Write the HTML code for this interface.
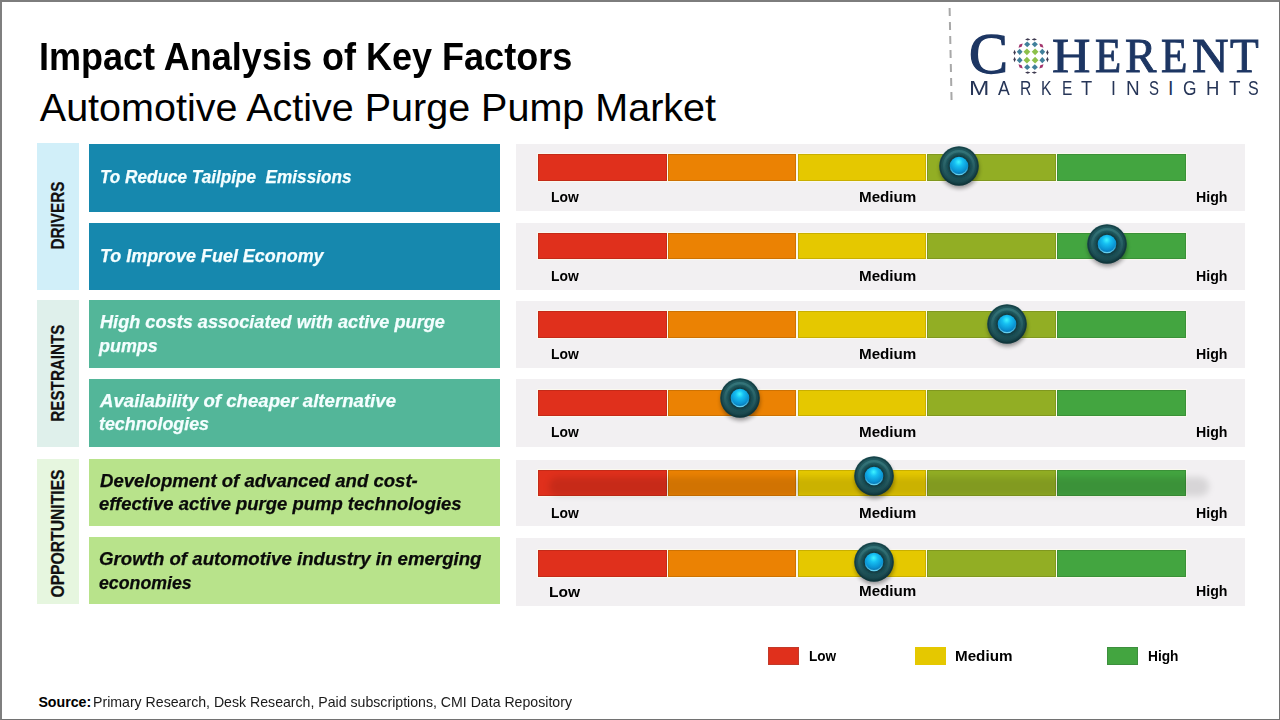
<!DOCTYPE html>
<html><head><meta charset="utf-8"><style>
*{margin:0;padding:0;box-sizing:border-box}
html,body{width:1280px;height:720px;overflow:hidden;background:#fff}
body{position:relative;font-family:"Liberation Sans", sans-serif;}
.a{position:absolute}
.frame{position:absolute;left:0;top:0;width:1280px;height:720px;border-top:2px solid #7d7d7d;border-left:2px solid #7f7f7f;border-right:1px solid #727272;border-bottom:1px solid #727272}
.t{position:absolute;white-space:pre;line-height:1;transform-origin:0 0}
.side{position:absolute;left:37px;width:42px}
.side span{position:absolute;font-weight:bold;font-size:18px;color:#111;white-space:nowrap;line-height:1;-webkit-text-stroke:0.2px #111}
.row{position:absolute;left:516px;width:729px;background:#f2f0f2}
</style></head>
<body>
<svg width="0" height="0" style="position:absolute"><defs>
<filter id="blur" x="-50%" y="-50%" width="200%" height="200%"><feGaussianBlur stdDeviation="2.2"/></filter><filter id="soft" x="-50%" y="-50%" width="200%" height="200%"><feGaussianBlur stdDeviation="0.8"/></filter>
<radialGradient id="gOuter" cx="48%" cy="42%" r="55%"><stop offset="0" stop-color="#2a6a70"/><stop offset="0.6" stop-color="#215a60"/><stop offset="0.85" stop-color="#1a4b51"/><stop offset="1" stop-color="#123a40"/></radialGradient>
<linearGradient id="gRing" x1="0" y1="0" x2="0" y2="1"><stop offset="0" stop-color="#3a7c80"/><stop offset="1" stop-color="#1c4a50"/></linearGradient>
<radialGradient id="gInner" cx="48%" cy="32%" r="72%" fx="48%" fy="28%"><stop offset="0" stop-color="#3ff4ff"/><stop offset="0.3" stop-color="#16bff2"/><stop offset="0.7" stop-color="#0a92d2"/><stop offset="1" stop-color="#08609a"/></radialGradient>
<linearGradient id="gRim" x1="0" y1="0" x2="0" y2="1"><stop offset="0.5" stop-color="#5fe6ff" stop-opacity="0"/><stop offset="1" stop-color="#7fe8ff" stop-opacity="0.8"/></linearGradient>
</defs></svg>
<div class="side" style="top:143px;height:147.0px;background:#d1eff9"><span style="left:0;top:0;transform-origin:0 0;transform:translate(21.10px,72.60px) rotate(-90deg) scaleX(0.8500) translate(-40.00px,-9.00px)">DRIVERS</span></div>
<div class="side" style="top:300px;height:146.7px;background:#dff0eb"><span style="left:0;top:0;transform-origin:0 0;transform:translate(21.10px,73.10px) rotate(-90deg) scaleX(0.8442) translate(-57.50px,-9.00px)">RESTRAINTS</span></div>
<div class="side" style="top:459.3px;height:145.0px;background:#e6f6df"><span style="left:0;top:0;transform-origin:0 0;transform:translate(21.10px,74.50px) rotate(-90deg) scaleX(0.8717) translate(-73.50px,-9.00px)">OPPORTUNITIES</span></div>
<div class="a" style="left:89px;width:411px;top:143.5px;height:68.0px;background:#1688ae"></div>
<div class="a" style="left:89px;width:411px;top:222.5px;height:67.0px;background:#1688ae"></div>
<div class="a" style="left:89px;width:411px;top:300.3px;height:67.4px;background:#53b699"></div>
<div class="a" style="left:89px;width:411px;top:378.8px;height:67.9px;background:#53b699"></div>
<div class="a" style="left:89px;width:411px;top:459.3px;height:66.5px;background:#b8e38b"></div>
<div class="a" style="left:89px;width:411px;top:537.3px;height:67.0px;background:#b8e38b"></div>
<div class="row" style="top:144px;height:67.4px"></div>
<div class="a" style="left:538px;top:154px;width:129px;height:26.6px;background:#e0301c;box-shadow:inset 0 0 0 1px rgba(0,0,0,0.12),0 0 0 1px rgba(255,255,235,0.6)"></div>
<div class="a" style="left:668px;top:154px;width:128px;height:26.6px;background:#eb8203;box-shadow:inset 0 0 0 1px rgba(0,0,0,0.12),0 0 0 1px rgba(255,255,235,0.6)"></div>
<div class="a" style="left:798px;top:154px;width:128px;height:26.6px;background:#e5c800;box-shadow:inset 0 0 0 1px rgba(0,0,0,0.12),0 0 0 1px rgba(255,255,235,0.6)"></div>
<div class="a" style="left:927px;top:154px;width:129px;height:26.6px;background:#92ae24;box-shadow:inset 0 0 0 1px rgba(0,0,0,0.12),0 0 0 1px rgba(255,255,235,0.6)"></div>
<div class="a" style="left:1057px;top:154px;width:129px;height:26.6px;background:#43a540;box-shadow:inset 0 0 0 1px rgba(0,0,0,0.12),0 0 0 1px rgba(255,255,235,0.6)"></div>
<div class="row" style="top:223.2px;height:66.4px"></div>
<div class="a" style="left:538px;top:233px;width:129px;height:26.0px;background:#e0301c;box-shadow:inset 0 0 0 1px rgba(0,0,0,0.12),0 0 0 1px rgba(255,255,235,0.6)"></div>
<div class="a" style="left:668px;top:233px;width:128px;height:26.0px;background:#eb8203;box-shadow:inset 0 0 0 1px rgba(0,0,0,0.12),0 0 0 1px rgba(255,255,235,0.6)"></div>
<div class="a" style="left:798px;top:233px;width:128px;height:26.0px;background:#e5c800;box-shadow:inset 0 0 0 1px rgba(0,0,0,0.12),0 0 0 1px rgba(255,255,235,0.6)"></div>
<div class="a" style="left:927px;top:233px;width:129px;height:26.0px;background:#92ae24;box-shadow:inset 0 0 0 1px rgba(0,0,0,0.12),0 0 0 1px rgba(255,255,235,0.6)"></div>
<div class="a" style="left:1057px;top:233px;width:129px;height:26.0px;background:#43a540;box-shadow:inset 0 0 0 1px rgba(0,0,0,0.12),0 0 0 1px rgba(255,255,235,0.6)"></div>
<div class="row" style="top:301.2px;height:67.1px"></div>
<div class="a" style="left:538px;top:311px;width:129px;height:26.7px;background:#e0301c;box-shadow:inset 0 0 0 1px rgba(0,0,0,0.12),0 0 0 1px rgba(255,255,235,0.6)"></div>
<div class="a" style="left:668px;top:311px;width:128px;height:26.7px;background:#eb8203;box-shadow:inset 0 0 0 1px rgba(0,0,0,0.12),0 0 0 1px rgba(255,255,235,0.6)"></div>
<div class="a" style="left:798px;top:311px;width:128px;height:26.7px;background:#e5c800;box-shadow:inset 0 0 0 1px rgba(0,0,0,0.12),0 0 0 1px rgba(255,255,235,0.6)"></div>
<div class="a" style="left:927px;top:311px;width:129px;height:26.7px;background:#92ae24;box-shadow:inset 0 0 0 1px rgba(0,0,0,0.12),0 0 0 1px rgba(255,255,235,0.6)"></div>
<div class="a" style="left:1057px;top:311px;width:129px;height:26.7px;background:#43a540;box-shadow:inset 0 0 0 1px rgba(0,0,0,0.12),0 0 0 1px rgba(255,255,235,0.6)"></div>
<div class="row" style="top:379.2px;height:67.5px"></div>
<div class="a" style="left:538px;top:390px;width:129px;height:25.8px;background:#e0301c;box-shadow:inset 0 0 0 1px rgba(0,0,0,0.12),0 0 0 1px rgba(255,255,235,0.6)"></div>
<div class="a" style="left:668px;top:390px;width:128px;height:25.8px;background:#eb8203;box-shadow:inset 0 0 0 1px rgba(0,0,0,0.12),0 0 0 1px rgba(255,255,235,0.6)"></div>
<div class="a" style="left:798px;top:390px;width:128px;height:25.8px;background:#e5c800;box-shadow:inset 0 0 0 1px rgba(0,0,0,0.12),0 0 0 1px rgba(255,255,235,0.6)"></div>
<div class="a" style="left:927px;top:390px;width:129px;height:25.8px;background:#92ae24;box-shadow:inset 0 0 0 1px rgba(0,0,0,0.12),0 0 0 1px rgba(255,255,235,0.6)"></div>
<div class="a" style="left:1057px;top:390px;width:129px;height:25.8px;background:#43a540;box-shadow:inset 0 0 0 1px rgba(0,0,0,0.12),0 0 0 1px rgba(255,255,235,0.6)"></div>
<div class="row" style="top:460px;height:66.2px"></div>
<div class="a" style="left:538px;top:470px;width:129px;height:26.0px;background:#e0301c;box-shadow:inset 0 0 0 1px rgba(0,0,0,0.12),0 0 0 1px rgba(255,255,235,0.6)"></div>
<div class="a" style="left:668px;top:470px;width:128px;height:26.0px;background:#eb8203;box-shadow:inset 0 0 0 1px rgba(0,0,0,0.12),0 0 0 1px rgba(255,255,235,0.6)"></div>
<div class="a" style="left:798px;top:470px;width:128px;height:26.0px;background:#e5c800;box-shadow:inset 0 0 0 1px rgba(0,0,0,0.12),0 0 0 1px rgba(255,255,235,0.6)"></div>
<div class="a" style="left:927px;top:470px;width:129px;height:26.0px;background:#92ae24;box-shadow:inset 0 0 0 1px rgba(0,0,0,0.12),0 0 0 1px rgba(255,255,235,0.6)"></div>
<div class="a" style="left:1057px;top:470px;width:129px;height:26.0px;background:#43a540;box-shadow:inset 0 0 0 1px rgba(0,0,0,0.12),0 0 0 1px rgba(255,255,235,0.6)"></div>
<div class="row" style="top:538px;height:67.8px"></div>
<div class="a" style="left:538px;top:550px;width:129px;height:26.7px;background:#e0301c;box-shadow:inset 0 0 0 1px rgba(0,0,0,0.12),0 0 0 1px rgba(255,255,235,0.6)"></div>
<div class="a" style="left:668px;top:550px;width:128px;height:26.7px;background:#eb8203;box-shadow:inset 0 0 0 1px rgba(0,0,0,0.12),0 0 0 1px rgba(255,255,235,0.6)"></div>
<div class="a" style="left:798px;top:550px;width:128px;height:26.7px;background:#e5c800;box-shadow:inset 0 0 0 1px rgba(0,0,0,0.12),0 0 0 1px rgba(255,255,235,0.6)"></div>
<div class="a" style="left:927px;top:550px;width:129px;height:26.7px;background:#92ae24;box-shadow:inset 0 0 0 1px rgba(0,0,0,0.12),0 0 0 1px rgba(255,255,235,0.6)"></div>
<div class="a" style="left:1057px;top:550px;width:129px;height:26.7px;background:#43a540;box-shadow:inset 0 0 0 1px rgba(0,0,0,0.12),0 0 0 1px rgba(255,255,235,0.6)"></div>
<div class="a" style="left:549px;top:477px;width:660px;height:19px;background:rgba(0,0,0,0.11);border-radius:9px;filter:blur(3px)"></div>
<div class="a" style="left:768px;top:647px;width:31px;height:18px;background:#e0301c;border:1px solid #c23a2a"></div>
<div class="a" style="left:915px;top:647px;width:31px;height:18px;background:#e5c800"></div>
<div class="a" style="left:1107px;top:647px;width:31px;height:18px;background:#43a540;border:1px solid #3d8f3e"></div>
<svg class="a" style="left:940px;top:0" width="20" height="110"><line x1="9.6" y1="8" x2="11.6" y2="102" stroke="#a8a8a8" stroke-width="2" stroke-dasharray="8 6"/></svg><svg width="40" height="40" viewBox="-20 -20 40 40" style="position:absolute;left:1010.5999999999999px;top:36.2px"><path d="M-3.4,0 L0,-3.4 L3.4,0 L0,3.4 Z" fill="#8cc04a" transform="translate(-4.1,-4.15) rotate(0)"/><path d="M-2.9,0 L0,-3.1 L2.9,0 L0,3.1 Z" fill="#41809b" transform="translate(-11.3,-4.15) rotate(0)"/><path d="M-3.1,0 L0,-2.9 L3.1,0 L0,2.9 Z" fill="#41809b" transform="translate(-3.8,-11.7) rotate(0)"/><path d="M-3.0,0 L0,-1.5 L3.0,0 L0,1.5 Z" fill="#a3346c" transform="translate(-10.4,-10.4) rotate(-45)"/><path d="M-2.7,0 L0,-1.2 L2.7,0 L0,1.2 Z" fill="#3e3a50" transform="translate(-3.3,-16.6) rotate(0)"/><path d="M-1.2,0 L0,-2.7 L1.2,0 L0,2.7 Z" fill="#3e3a50" transform="translate(-16.4,-3.5) rotate(0)"/><path d="M-3.4,0 L0,-3.4 L3.4,0 L0,3.4 Z" fill="#8cc04a" transform="translate(-4.1,4.15) rotate(0)"/><path d="M-2.9,0 L0,-3.1 L2.9,0 L0,3.1 Z" fill="#41809b" transform="translate(-11.3,4.15) rotate(0)"/><path d="M-3.1,0 L0,-2.9 L3.1,0 L0,2.9 Z" fill="#41809b" transform="translate(-3.8,11.2) rotate(0)"/><path d="M-3.0,0 L0,-1.5 L3.0,0 L0,1.5 Z" fill="#a3346c" transform="translate(-10.4,10.4) rotate(45)"/><path d="M-2.7,0 L0,-1.2 L2.7,0 L0,1.2 Z" fill="#3e3a50" transform="translate(-3.3,16.6) rotate(0)"/><path d="M-1.2,0 L0,-2.7 L1.2,0 L0,2.7 Z" fill="#3e3a50" transform="translate(-16.4,3.5) rotate(0)"/><path d="M-3.4,0 L0,-3.4 L3.4,0 L0,3.4 Z" fill="#8cc04a" transform="translate(4.1,-4.15) rotate(0)"/><path d="M-2.9,0 L0,-3.1 L2.9,0 L0,3.1 Z" fill="#41809b" transform="translate(11.3,-4.15) rotate(0)"/><path d="M-3.1,0 L0,-2.9 L3.1,0 L0,2.9 Z" fill="#41809b" transform="translate(3.8,-11.7) rotate(0)"/><path d="M-3.0,0 L0,-1.5 L3.0,0 L0,1.5 Z" fill="#a3346c" transform="translate(10.4,-10.4) rotate(45)"/><path d="M-2.7,0 L0,-1.2 L2.7,0 L0,1.2 Z" fill="#3e3a50" transform="translate(3.3,-16.6) rotate(0)"/><path d="M-1.2,0 L0,-2.7 L1.2,0 L0,2.7 Z" fill="#3e3a50" transform="translate(16.4,-3.5) rotate(0)"/><path d="M-3.4,0 L0,-3.4 L3.4,0 L0,3.4 Z" fill="#8cc04a" transform="translate(4.1,4.15) rotate(0)"/><path d="M-2.9,0 L0,-3.1 L2.9,0 L0,3.1 Z" fill="#41809b" transform="translate(11.3,4.15) rotate(0)"/><path d="M-3.1,0 L0,-2.9 L3.1,0 L0,2.9 Z" fill="#41809b" transform="translate(3.8,11.2) rotate(0)"/><path d="M-3.0,0 L0,-1.5 L3.0,0 L0,1.5 Z" fill="#a3346c" transform="translate(10.4,10.4) rotate(-45)"/><path d="M-2.7,0 L0,-1.2 L2.7,0 L0,1.2 Z" fill="#3e3a50" transform="translate(3.3,16.6) rotate(0)"/><path d="M-1.2,0 L0,-2.7 L1.2,0 L0,2.7 Z" fill="#3e3a50" transform="translate(16.4,3.5) rotate(0)"/></svg>
<div class="t" style="left:38.93px;top:36.84px;font-size:39px;font-weight:bold;color:#000;transform:scaleX(0.9237);">Impact Analysis of Key Factors</div>
<div class="t" style="left:39.80px;top:87.62px;font-size:39.5px;color:#000;">Automotive Active Purge Pump Market</div>
<div class="t" style="left:99.60px;top:166.94px;font-size:19px;font-weight:bold;font-style:italic;color:#f4feff;transform:scaleX(0.9033);-webkit-text-stroke:0.25px #f4feff;">To Reduce Tailpipe  Emissions</div>
<div class="t" style="left:99.66px;top:245.84px;font-size:19px;font-weight:bold;font-style:italic;color:#f4feff;transform:scaleX(0.9441);-webkit-text-stroke:0.25px #f4feff;">To Improve Fuel Economy</div>
<div class="t" style="left:100.00px;top:311.75px;font-size:19px;font-weight:bold;font-style:italic;color:#f4feff;transform:scaleX(0.9551);-webkit-text-stroke:0.25px #f4feff;">High costs associated with active purge</div>
<div class="t" style="left:99.40px;top:335.84px;font-size:19px;font-weight:bold;font-style:italic;color:#f4feff;transform:scaleX(0.9426);-webkit-text-stroke:0.25px #f4feff;">pumps</div>
<div class="t" style="left:99.50px;top:390.69px;font-size:19px;font-weight:bold;font-style:italic;color:#f4feff;transform:scaleX(0.9801);-webkit-text-stroke:0.25px #f4feff;">Availability of cheaper alternative</div>
<div class="t" style="left:98.56px;top:414.44px;font-size:19px;font-weight:bold;font-style:italic;color:#f4feff;transform:scaleX(0.9391);-webkit-text-stroke:0.25px #f4feff;">technologies</div>
<div class="t" style="left:100.00px;top:470.75px;font-size:19px;font-weight:bold;font-style:italic;color:#0a0a0a;transform:scaleX(0.9772);-webkit-text-stroke:0.25px #0a0a0a;">Development of advanced and cost-</div>
<div class="t" style="left:98.53px;top:494.44px;font-size:19px;font-weight:bold;font-style:italic;color:#0a0a0a;transform:scaleX(0.9709);-webkit-text-stroke:0.25px #0a0a0a;">effective active purge pump technologies</div>
<div class="t" style="left:99.02px;top:548.95px;font-size:19px;font-weight:bold;font-style:italic;color:#0a0a0a;transform:scaleX(0.9820);-webkit-text-stroke:0.25px #0a0a0a;">Growth of automotive industry in emerging</div>
<div class="t" style="left:99.07px;top:572.75px;font-size:19px;font-weight:bold;font-style:italic;color:#0a0a0a;transform:scaleX(0.9340);-webkit-text-stroke:0.25px #0a0a0a;">economies</div>
<div class="t" style="left:550.51px;top:190.07px;font-size:14px;font-weight:bold;color:#000;transform:scaleX(0.9889);">Low</div>
<div class="t" style="left:858.92px;top:190.07px;font-size:14px;font-weight:bold;color:#000;transform:scaleX(1.0843);">Medium</div>
<div class="t" style="left:1195.89px;top:190.07px;font-size:14px;font-weight:bold;color:#000;transform:scaleX(1.0103);">High</div>
<div class="t" style="left:550.51px;top:268.92px;font-size:14px;font-weight:bold;color:#000;transform:scaleX(0.9889);">Low</div>
<div class="t" style="left:858.92px;top:268.92px;font-size:14px;font-weight:bold;color:#000;transform:scaleX(1.0843);">Medium</div>
<div class="t" style="left:1195.89px;top:268.92px;font-size:14px;font-weight:bold;color:#000;transform:scaleX(1.0103);">High</div>
<div class="t" style="left:550.51px;top:347.17px;font-size:14px;font-weight:bold;color:#000;transform:scaleX(0.9889);">Low</div>
<div class="t" style="left:858.92px;top:347.17px;font-size:14px;font-weight:bold;color:#000;transform:scaleX(1.0843);">Medium</div>
<div class="t" style="left:1195.89px;top:347.17px;font-size:14px;font-weight:bold;color:#000;transform:scaleX(1.0103);">High</div>
<div class="t" style="left:550.51px;top:425.37px;font-size:14px;font-weight:bold;color:#000;transform:scaleX(0.9889);">Low</div>
<div class="t" style="left:858.92px;top:425.37px;font-size:14px;font-weight:bold;color:#000;transform:scaleX(1.0843);">Medium</div>
<div class="t" style="left:1195.89px;top:425.37px;font-size:14px;font-weight:bold;color:#000;transform:scaleX(1.0103);">High</div>
<div class="t" style="left:550.51px;top:505.97px;font-size:14px;font-weight:bold;color:#000;transform:scaleX(0.9889);">Low</div>
<div class="t" style="left:858.92px;top:505.97px;font-size:14px;font-weight:bold;color:#000;transform:scaleX(1.0843);">Medium</div>
<div class="t" style="left:1195.89px;top:505.97px;font-size:14px;font-weight:bold;color:#000;transform:scaleX(1.0103);">High</div>
<div class="t" style="left:548.67px;top:584.23px;font-size:15px;font-weight:bold;color:#000;transform:scaleX(1.0345);">Low</div>
<div class="t" style="left:858.92px;top:584.17px;font-size:14px;font-weight:bold;color:#000;transform:scaleX(1.0843);">Medium</div>
<div class="t" style="left:1195.89px;top:584.17px;font-size:14px;font-weight:bold;color:#000;transform:scaleX(1.0103);">High</div>
<div class="t" style="left:809.05px;top:648.72px;font-size:14.3px;font-weight:bold;color:#000;transform:scaleX(0.9500);">Low</div>
<div class="t" style="left:955.04px;top:648.62px;font-size:14.3px;font-weight:bold;color:#000;transform:scaleX(1.0635);">Medium</div>
<div class="t" style="left:1148.24px;top:648.62px;font-size:14.3px;font-weight:bold;color:#000;transform:scaleX(0.9600);">High</div>
<div class="t" style="left:38.40px;top:694.90px;font-size:14.2px;font-weight:bold;color:#000;">Source:</div>
<div class="t" style="left:93.00px;top:694.90px;font-size:14.2px;color:#1a1a1a;transform:scaleX(0.9958);">Primary Research, Desk Research, Paid subscriptions, CMI Data Repository</div>
<div class="t" style="left:968.94px;top:25.86px;font-size:56.7px;font-family:'Liberation Serif',serif;color:#1d3663;transform:scaleX(1.0303);-webkit-text-stroke:1.3px #1d3663;">C</div>
<div class="t" style="left:1051.51px;top:32.37px;font-size:48.9px;font-family:'Liberation Serif',serif;color:#1d3663;transform:scaleX(1.0879);-webkit-text-stroke:0.9px #1d3663;">H</div>
<div class="t" style="left:1094.82px;top:32.37px;font-size:48.9px;font-family:'Liberation Serif',serif;color:#1d3663;transform:scaleX(0.8769);-webkit-text-stroke:0.9px #1d3663;">E</div>
<div class="t" style="left:1125.04px;top:32.37px;font-size:48.9px;font-family:'Liberation Serif',serif;color:#1d3663;transform:scaleX(0.9625);-webkit-text-stroke:0.9px #1d3663;">R</div>
<div class="t" style="left:1161.12px;top:32.37px;font-size:48.9px;font-family:'Liberation Serif',serif;color:#1d3663;transform:scaleX(0.8846);-webkit-text-stroke:0.9px #1d3663;">E</div>
<div class="t" style="left:1191.66px;top:32.37px;font-size:48.9px;font-family:'Liberation Serif',serif;color:#1d3663;transform:scaleX(1.0364);-webkit-text-stroke:0.9px #1d3663;">N</div>
<div class="t" style="left:1229.54px;top:32.37px;font-size:48.9px;font-family:'Liberation Serif',serif;color:#1d3663;transform:scaleX(0.9607);-webkit-text-stroke:0.9px #1d3663;">T</div>
<div class="t" style="left:968.61px;top:79.14px;font-size:19.6px;color:#263557;transform:scaleX(1.2462);">M</div>
<div class="t" style="left:998.40px;top:79.14px;font-size:19.6px;color:#263557;transform:scaleX(0.9000);">A</div>
<div class="t" style="left:1020.20px;top:79.14px;font-size:19.6px;color:#263557;transform:scaleX(0.8000);">R</div>
<div class="t" style="left:1041.30px;top:79.14px;font-size:19.6px;color:#263557;transform:scaleX(0.8000);">K</div>
<div class="t" style="left:1061.62px;top:79.14px;font-size:19.6px;color:#263557;transform:scaleX(0.7900);">E</div>
<div class="t" style="left:1081.00px;top:79.14px;font-size:19.6px;color:#263557;transform:scaleX(0.9333);">T</div>
<div class="t" style="left:1111.20px;top:79.14px;font-size:19.6px;color:#263557;transform:scaleX(0.9000);">I</div>
<div class="t" style="left:1125.97px;top:79.14px;font-size:19.6px;color:#263557;transform:scaleX(0.9636);">N</div>
<div class="t" style="left:1149.24px;top:79.14px;font-size:19.6px;color:#263557;transform:scaleX(0.7636);">S</div>
<div class="t" style="left:1168.00px;top:79.14px;font-size:19.6px;color:#263557;">I</div>
<div class="t" style="left:1183.02px;top:79.14px;font-size:19.6px;color:#263557;transform:scaleX(0.8846);">G</div>
<div class="t" style="left:1206.11px;top:79.14px;font-size:19.6px;color:#263557;transform:scaleX(0.9455);">H</div>
<div class="t" style="left:1228.70px;top:79.14px;font-size:19.6px;color:#263557;transform:scaleX(0.9583);">T</div>
<div class="t" style="left:1248.48px;top:79.14px;font-size:19.6px;color:#263557;transform:scaleX(0.8182);">S</div>
<svg width="60" height="60" viewBox="-30 -30 60 60" style="position:absolute;left:928.9px;top:136.4px;overflow:visible">
<circle cx="0.5" cy="3" r="19.5" fill="#000" opacity="0.38" filter="url(#blur)"/>
<circle cx="0" cy="0" r="19.8" fill="url(#gOuter)"/>
<circle cx="0" cy="0" r="18.7" fill="none" stroke="#0f3136" stroke-width="1.3" opacity="0.5"/>
<circle cx="0" cy="0" r="14.8" fill="none" stroke="url(#gRing)" stroke-width="2.4" opacity="0.75"/>
<circle cx="0" cy="0" r="11.6" fill="#10363b" opacity="0.85" filter="url(#soft)"/>
<circle cx="0" cy="0" r="9.3" fill="url(#gInner)"/>
<circle cx="0" cy="0" r="8.7" fill="none" stroke="url(#gRim)" stroke-width="1.2"/>
</svg>
<svg width="60" height="60" viewBox="-30 -30 60 60" style="position:absolute;left:1076.7px;top:214.3px;overflow:visible">
<circle cx="0.5" cy="3" r="19.5" fill="#000" opacity="0.38" filter="url(#blur)"/>
<circle cx="0" cy="0" r="19.8" fill="url(#gOuter)"/>
<circle cx="0" cy="0" r="18.7" fill="none" stroke="#0f3136" stroke-width="1.3" opacity="0.5"/>
<circle cx="0" cy="0" r="14.8" fill="none" stroke="url(#gRing)" stroke-width="2.4" opacity="0.75"/>
<circle cx="0" cy="0" r="11.6" fill="#10363b" opacity="0.85" filter="url(#soft)"/>
<circle cx="0" cy="0" r="9.3" fill="url(#gInner)"/>
<circle cx="0" cy="0" r="8.7" fill="none" stroke="url(#gRim)" stroke-width="1.2"/>
</svg>
<svg width="60" height="60" viewBox="-30 -30 60 60" style="position:absolute;left:976.8px;top:293.9px;overflow:visible">
<circle cx="0.5" cy="3" r="19.5" fill="#000" opacity="0.38" filter="url(#blur)"/>
<circle cx="0" cy="0" r="19.8" fill="url(#gOuter)"/>
<circle cx="0" cy="0" r="18.7" fill="none" stroke="#0f3136" stroke-width="1.3" opacity="0.5"/>
<circle cx="0" cy="0" r="14.8" fill="none" stroke="url(#gRing)" stroke-width="2.4" opacity="0.75"/>
<circle cx="0" cy="0" r="11.6" fill="#10363b" opacity="0.85" filter="url(#soft)"/>
<circle cx="0" cy="0" r="9.3" fill="url(#gInner)"/>
<circle cx="0" cy="0" r="8.7" fill="none" stroke="url(#gRim)" stroke-width="1.2"/>
</svg>
<svg width="60" height="60" viewBox="-30 -30 60 60" style="position:absolute;left:710.3px;top:368.2px;overflow:visible">
<circle cx="0.5" cy="3" r="19.5" fill="#000" opacity="0.38" filter="url(#blur)"/>
<circle cx="0" cy="0" r="19.8" fill="url(#gOuter)"/>
<circle cx="0" cy="0" r="18.7" fill="none" stroke="#0f3136" stroke-width="1.3" opacity="0.5"/>
<circle cx="0" cy="0" r="14.8" fill="none" stroke="url(#gRing)" stroke-width="2.4" opacity="0.75"/>
<circle cx="0" cy="0" r="11.6" fill="#10363b" opacity="0.85" filter="url(#soft)"/>
<circle cx="0" cy="0" r="9.3" fill="url(#gInner)"/>
<circle cx="0" cy="0" r="8.7" fill="none" stroke="url(#gRim)" stroke-width="1.2"/>
</svg>
<svg width="60" height="60" viewBox="-30 -30 60 60" style="position:absolute;left:844.2px;top:445.7px;overflow:visible">
<circle cx="0.5" cy="3" r="19.5" fill="#000" opacity="0.38" filter="url(#blur)"/>
<circle cx="0" cy="0" r="19.8" fill="url(#gOuter)"/>
<circle cx="0" cy="0" r="18.7" fill="none" stroke="#0f3136" stroke-width="1.3" opacity="0.5"/>
<circle cx="0" cy="0" r="14.8" fill="none" stroke="url(#gRing)" stroke-width="2.4" opacity="0.75"/>
<circle cx="0" cy="0" r="11.6" fill="#10363b" opacity="0.85" filter="url(#soft)"/>
<circle cx="0" cy="0" r="9.3" fill="url(#gInner)"/>
<circle cx="0" cy="0" r="8.7" fill="none" stroke="url(#gRim)" stroke-width="1.2"/>
</svg>
<svg width="60" height="60" viewBox="-30 -30 60 60" style="position:absolute;left:844.2px;top:532.3px;overflow:visible">
<circle cx="0.5" cy="3" r="19.5" fill="#000" opacity="0.38" filter="url(#blur)"/>
<circle cx="0" cy="0" r="19.8" fill="url(#gOuter)"/>
<circle cx="0" cy="0" r="18.7" fill="none" stroke="#0f3136" stroke-width="1.3" opacity="0.5"/>
<circle cx="0" cy="0" r="14.8" fill="none" stroke="url(#gRing)" stroke-width="2.4" opacity="0.75"/>
<circle cx="0" cy="0" r="11.6" fill="#10363b" opacity="0.85" filter="url(#soft)"/>
<circle cx="0" cy="0" r="9.3" fill="url(#gInner)"/>
<circle cx="0" cy="0" r="8.7" fill="none" stroke="url(#gRim)" stroke-width="1.2"/>
</svg>
<div class="frame"></div>
</body></html>
